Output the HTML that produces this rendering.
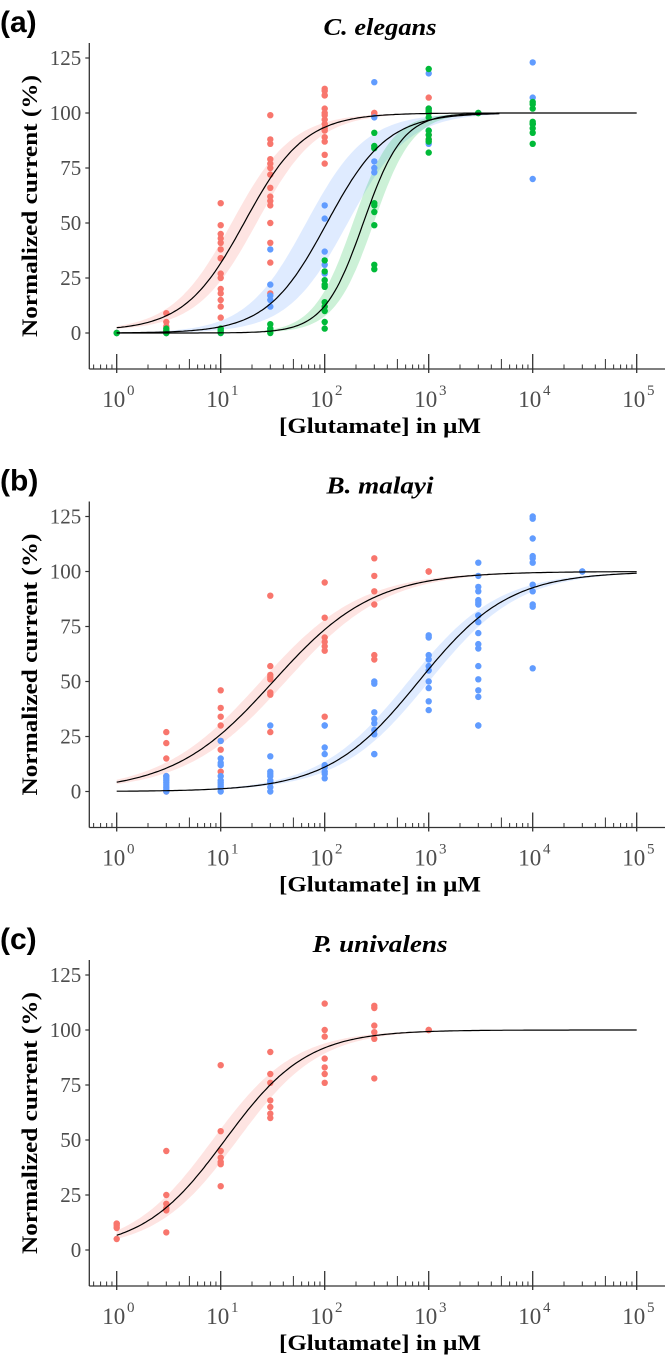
<!DOCTYPE html>
<html><head><meta charset="utf-8">
<style>
html,body{margin:0;padding:0;background:#fff;}
svg{display:block;}
.tl{font-family:"Liberation Serif",serif;font-size:21px;fill:#4d4d4d;}
.xl{font-family:"Liberation Serif",serif;font-size:23px;fill:#4d4d4d;}
.ttl{font-family:"Liberation Serif",serif;font-size:24px;font-weight:bold;font-style:italic;fill:#000;}
.axt{font-family:"Liberation Serif",serif;font-size:22px;font-weight:bold;fill:#000;}
.pl{font-family:"Liberation Sans",sans-serif;font-size:30px;font-weight:bold;fill:#000;}
</style></head>
<body>
<svg id="fig" width="666" height="1357" viewBox="0 0 666 1357" xmlns="http://www.w3.org/2000/svg"></svg>
<script>
// ---- data ----
const panelLabels = ["(a)", "(b)", "(c)"];
const panelTitles = ["C. elegans", "B. malayi", "P. univalens"];
const titleWidths = [113, 107, 135];
const yTicks = [0, 25, 50, 75, 100, 125];
const xTickExps = [0, 1, 2, 3, 4, 5];

// panel a
const aRedConc = [1,3,3,3,3,3,10,10,10,10,10,10,10,10,10,10,10,10,10,10,10,10,30,30,30,30,30,30,30,30,30,30,30,30,30,30,30,100,100,100,100,100,100,100,100,100,100,100,100,100,100,100,300,300,300,1000,1000,1000,1000,1000];
const aRedVal = [0,9,5,3,1,0,59,49,45,43,41,38,34,34,27,25,20,18,15,12,7,2,99,88,86,79,77,75,72,66,62,60,58,50,41,32,18,111,110,108,108,102,100,99,97,95,93,92,89,87,81,77,100,100,99,107,102,100,90,88];
const aBlueConc = [1,3,10,10,30,30,30,30,30,30,100,100,100,100,100,300,300,300,300,300,1000,1000,1000,1000,10000,10000,10000,10000];
const aBlueVal = [0,0,0,1,38,22,17,15,12,2,58,52,37,31,27,114,98,78,75,73,118,102,92,86,123,107,95,70];
const aGreenConc = [1,1,3,3,3,3,10,10,10,30,30,30,30,100,100,100,100,100,100,100,100,100,100,300,300,300,300,300,300,300,300,300,1000,1000,1000,1000,1000,1000,1000,1000,1000,1000,3000,3000,10000,10000,10000,10000,10000,10000,10000,10000,10000];
const aGreenVal = [0,0,2,1,0,0,0,1,2,4,2,1,0,33,28,24,22,21,14,12,10,5,2,91,85,84,59,58,55,49,31,29,120,102,101,100,98,92,90,88,87,82,100,100,105,104,102,96,95,95,93,91,86];
// fits: [bottom, EC50, hill, maxExp, bandLog]
const aRedFit = [1, 17, 1.5, 5, 0.12];
const aBlueFit = [0, 105, 1.5, 3.68, 0.2];
const aGreenFit = [0, 235, 2.3, 3.68, 0.1];

// panel b
const bRedConc = [3,3,3,3,3,10,10,10,10,10,10,10,30,30,30,30,30,30,30,30,100,100,100,100,100,100,100,300,300,300,300,300,300,1000,1000,1000];
const bRedVal = [27,22,15,7,0,46,38,34,30,23,19,9,89,57,53,52,51,45,44,27,95,79,70,68,66,64,34,106,98,91,85,62,60,100,100,100];
const bBlueConc = [3,3,3,3,3,3,3,3,10,10,10,10,10,10,10,10,10,10,30,30,30,30,30,30,30,30,30,100,100,100,100,100,100,100,100,100,300,300,300,300,300,300,300,300,300,1000,1000,1000,1000,1000,1000,1000,1000,1000,1000,3000,3000,3000,3000,3000,3000,3000,3000,3000,3000,3000,3000,3000,3000,3000,3000,3000,3000,3000,10000,10000,10000,10000,10000,10000,10000,10000,10000,10000,10000,30000,30000];
const bBlueVal = [7,6,5,4,3,2,1,0,23,15,13,12,7,5,4,3,2,0,30,16,9,8,7,5,4,2,0,30,30,20,17,12,11,9,8,6,50,49,36,33,31,28,26,17,17,71,70,62,60,57,55,50,47,41,37,104,98,93,91,87,86,85,80,80,77,72,67,65,57,51,46,43,30,30,125,124,115,107,106,104,94,91,85,84,56,100,100];
const bRedFit = [0, 32, 0.9, 5, 0.12];
const bBlueFit = [0, 800, 1.0, 5, 0.1];

// panel c
const cRedConc = [1,1,1,1,1,3,3,3,3,3,3,10,10,10,10,10,10,10,30,30,30,30,30,30,30,100,100,100,100,100,100,100,300,300,300,300,300,300,1000,1000];
const cRedVal = [12,12,11,10,5,45,25,21,19,18,8,84,54,45,42,40,39,29,90,80,76,68,65,62,60,112,100,97,87,83,80,76,111,110,102,99,96,78,100,100];
const cRedFit = [0, 11, 1.1, 5, 0.12];

const RED = "#F8766D", BLUE = "#619CFF", GREEN = "#00BA38";
const NS = "http://www.w3.org/2000/svg";
const svg = document.getElementById("fig");

function mk(tag, attrs, parent) {
  const e = document.createElementNS(NS, tag);
  for (const k in attrs) e.setAttribute(k, attrs[k]);
  (parent || svg).appendChild(e);
  return e;
}

const X0 = 116.7, DEC = 104, AXL = 89.3, AXR = 665;
function xS(c) { return X0 + Math.log10(c) * DEC; }
function hill(c, f, ec) { const b = f[0]; return b + (100 - b) / (1 + Math.pow(ec / c, f[2])); }

function drawPanel(i, series) {
  const off = i * 458.5;
  const y0 = 333 + off;
  const yS = v => y0 - v * 2.2;
  const g = mk("g", {});
  
  

  const lab = mk("text", {x: 0, y: 32 + off, class: "pl"}, g);
  lab.textContent = panelLabels[i];
  
  

  const t = mk("text", {x: 380, y: 35 + off, class: "ttl", "text-anchor": "middle", textLength: titleWidths[i], lengthAdjust: "spacingAndGlyphs"}, g);
  t.textContent = panelTitles[i];
  
  

  // ribbons
  series.forEach(s => {
    const f = s.fit;
    let up = [], lo = [];
    for (let e = 0; e <= f[3] + 1e-9; e += 0.02) {
      const c = Math.pow(10, e);
      up.push(xS(c).toFixed(1) + "," + yS(hill(c, f, f[1] / Math.pow(10, f[4]))).toFixed(1));
      lo.push(xS(c).toFixed(1) + "," + yS(hill(c, f, f[1] * Math.pow(10, f[4]))).toFixed(1));
    }
    const r = mk("polygon", {points: up.concat(lo.reverse()).join(" "), fill: s.color, "fill-opacity": 0.2, stroke: "none"}, g);
    
    
  });
  // points
  series.forEach(s => {
    s.conc.forEach((c, k) => {
      const p = mk("circle", {cx: xS(c).toFixed(1), cy: yS(s.val[k]).toFixed(1), r: 3.2, fill: s.color}, g);
      
      
    });
  });
  // curves
  series.forEach(s => {
    const f = s.fit; let pts = [];
    for (let e = 0; e <= f[3] + 1e-9; e += 0.02) {
      const c = Math.pow(10, e);
      pts.push(xS(c).toFixed(1) + "," + yS(hill(c, f, f[1])).toFixed(1));
    }
    const l = mk("polyline", {points: pts.join(" "), fill: "none", stroke: "#000", "stroke-width": 1.2}, g);
    
    
  });

  // axes
  const axBot = 369 + off, axTop = 43 + off;
  const ya = mk("line", {x1: AXL, y1: axTop, x2: AXL, y2: axBot, stroke: "#333", "stroke-width": 1.3}, g);
  
  
  const xa = mk("line", {x1: AXL, y1: axBot, x2: AXR, y2: axBot, stroke: "#333", "stroke-width": 1.3}, g);
  
  

  yTicks.forEach(v => {
    mk("line", {x1: AXL - 4, y1: yS(v), x2: AXL, y2: yS(v), stroke: "#333", "stroke-width": 1.2}, g);
    const tl = mk("text", {x: AXL - 8, y: yS(v) + 7, class: "tl", "text-anchor": "end"}, g);
    tl.textContent = v;
    
    
  });
  // minor ticks
  for (let d = -1; d < 5; d++) {
    for (let m = 2; m <= 9; m++) {
      const x = X0 + (d + Math.log10(m)) * DEC;
      if (x <= AXL + 1 || x >= AXR) continue;
      const len = m === 5 ? 10 : 4.5;
      mk("line", {x1: x, y1: axBot - len, x2: x, y2: axBot, stroke: "#333", "stroke-width": 1}, g);
    }
  }
  xTickExps.forEach(e => {
    const x = X0 + e * DEC;
    mk("line", {x1: x, y1: axBot - 15, x2: x, y2: axBot + 4, stroke: "#333", "stroke-width": 1.3}, g);
    const tl = mk("text", {x: x - 3, y: axBot + 38, class: "xl", "text-anchor": "middle"}, g);
    tl.textContent = "10";
    
    
    const sup = mk("text", {x: x + 14, y: axBot + 26, class: "xl", "text-anchor": "middle"}, g);
    sup.setAttribute('style', 'font-size:15px');
    sup.textContent = e;
  });
  const xt = mk("text", {x: 380, y: axBot + 64, class: "axt", "text-anchor": "middle", textLength: 202, lengthAdjust: "spacingAndGlyphs"}, g);
  xt.textContent = "[Glutamate] in \u00B5M";
  
  
  const yt = mk("text", {x: 0, y: 0, class: "axt", "text-anchor": "middle", textLength: 262, lengthAdjust: "spacingAndGlyphs", transform: "translate(37," + (206 + off) + ") rotate(-90)"}, g);
  yt.textContent = "Normalized current (%)";
  
  
}

drawPanel(0, [
  {conc: aRedConc, val: aRedVal, fit: aRedFit, color: RED},
  {conc: aBlueConc, val: aBlueVal, fit: aBlueFit, color: BLUE},
  {conc: aGreenConc, val: aGreenVal, fit: aGreenFit, color: GREEN}
]);
drawPanel(1, [
  {conc: bRedConc, val: bRedVal, fit: bRedFit, color: RED},
  {conc: bBlueConc, val: bBlueVal, fit: bBlueFit, color: BLUE}
]);
drawPanel(2, [
  {conc: cRedConc, val: cRedVal, fit: cRedFit, color: RED}
]);
</script>
</body></html>
